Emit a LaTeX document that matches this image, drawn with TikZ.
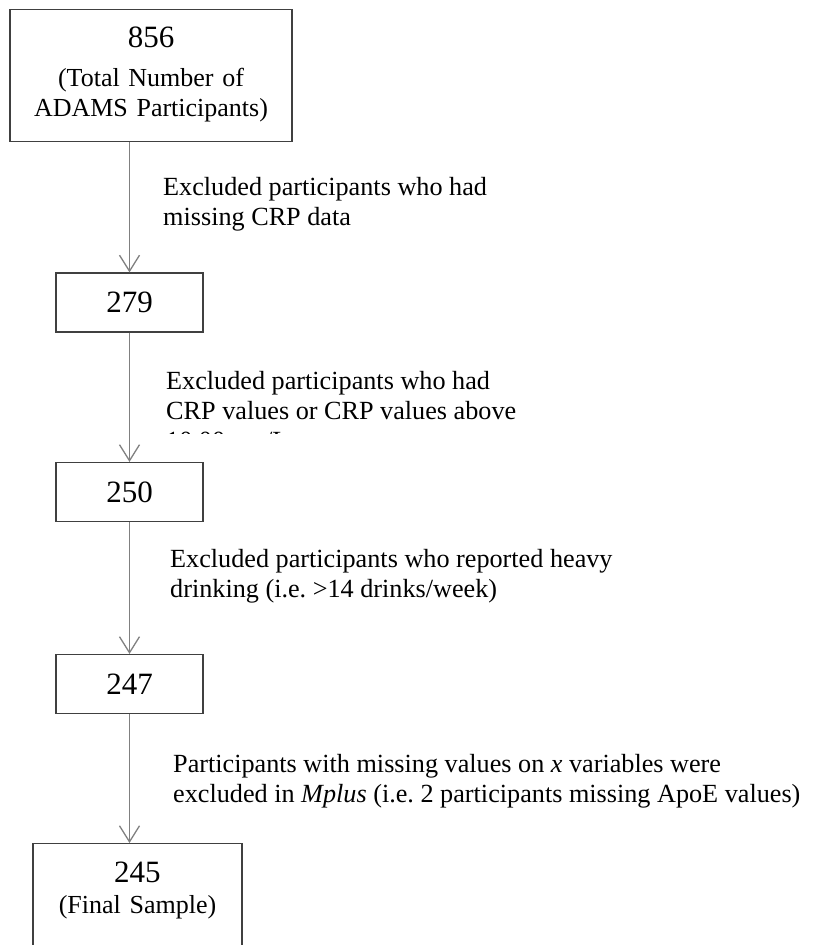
\documentclass[tikz,border=0pt]{standalone}
\usepackage{fontspec}
\setmainfont{Liberation Serif}
\usetikzlibrary{arrows.meta}
\begin{document}
\frenchspacing
\begin{tikzpicture}[x=1pt,y=-1pt,
  box/.style={draw=black!75, line width=1.2pt, inner sep=0pt, align=center, font=\fontsize{26}{30}\selectfont},
  numbox/.style={box, minimum width=147pt, minimum height=59pt, font=\fontsize{31}{31}\selectfont},
  conn/.style={draw=black!50, line width=1.3pt, -{Straight Barb[length=16pt,width=20pt]}},
  lbl/.style={anchor=base west, align=left, inner sep=0pt, font=\fontsize{26.2}{30}\selectfont}]
\useasboundingbox (0,0) rectangle (814,945);
\clip (0,0) rectangle (814,945);

\node[box, anchor=north, text width=282pt, text height=38pt, text depth=94pt] (n856) at (151,9)
  {{\fontsize{31}{31}\selectfont 856}\\[9pt](Total Number of\\ADAMS Participants)};
\node[numbox] (n279) at (129.5,302.5) {279};
\node[numbox] (n250) at (129.5,492) {250};
\node[numbox] (n247) at (129.5,684) {247};
\node[box, anchor=north, text width=209pt, text height=39pt, text depth=100pt] (n245) at (137.5,843)
  {{\fontsize{31}{31}\selectfont 245}\\[1pt](Final Sample)};

\draw[conn] (n856.south -| n279.north) -- (n279.north);
\draw[conn] (n279.south) -- (n250.north);
\draw[conn] (n250.south) -- (n247.north);
\draw[conn] (n247.south) -- (n247.south |- n245.north);

% anchor "base" of a multi-line node lies on the last line's baseline
\node[lbl] (l1) at (163,225) {Excluded participants who had\\missing CRP data};
\begin{scope}
  \clip (150,360) rectangle (700,433);
  \node[lbl] (l2) at (166,449) {Excluded participants who had\\CRP values or CRP values above\\10.00 mg/L};
\end{scope}
\node[lbl] (l3) at (170,597) {Excluded participants who reported heavy\\drinking (i.e. >14 drinks/week)};
\node[lbl] (l4) at (173,802) {Participants with missing values on \textit{x} variables were\\excluded in \textit{Mplus} (i.e. 2 participants missing ApoE values)};
\end{tikzpicture}
\end{document}
